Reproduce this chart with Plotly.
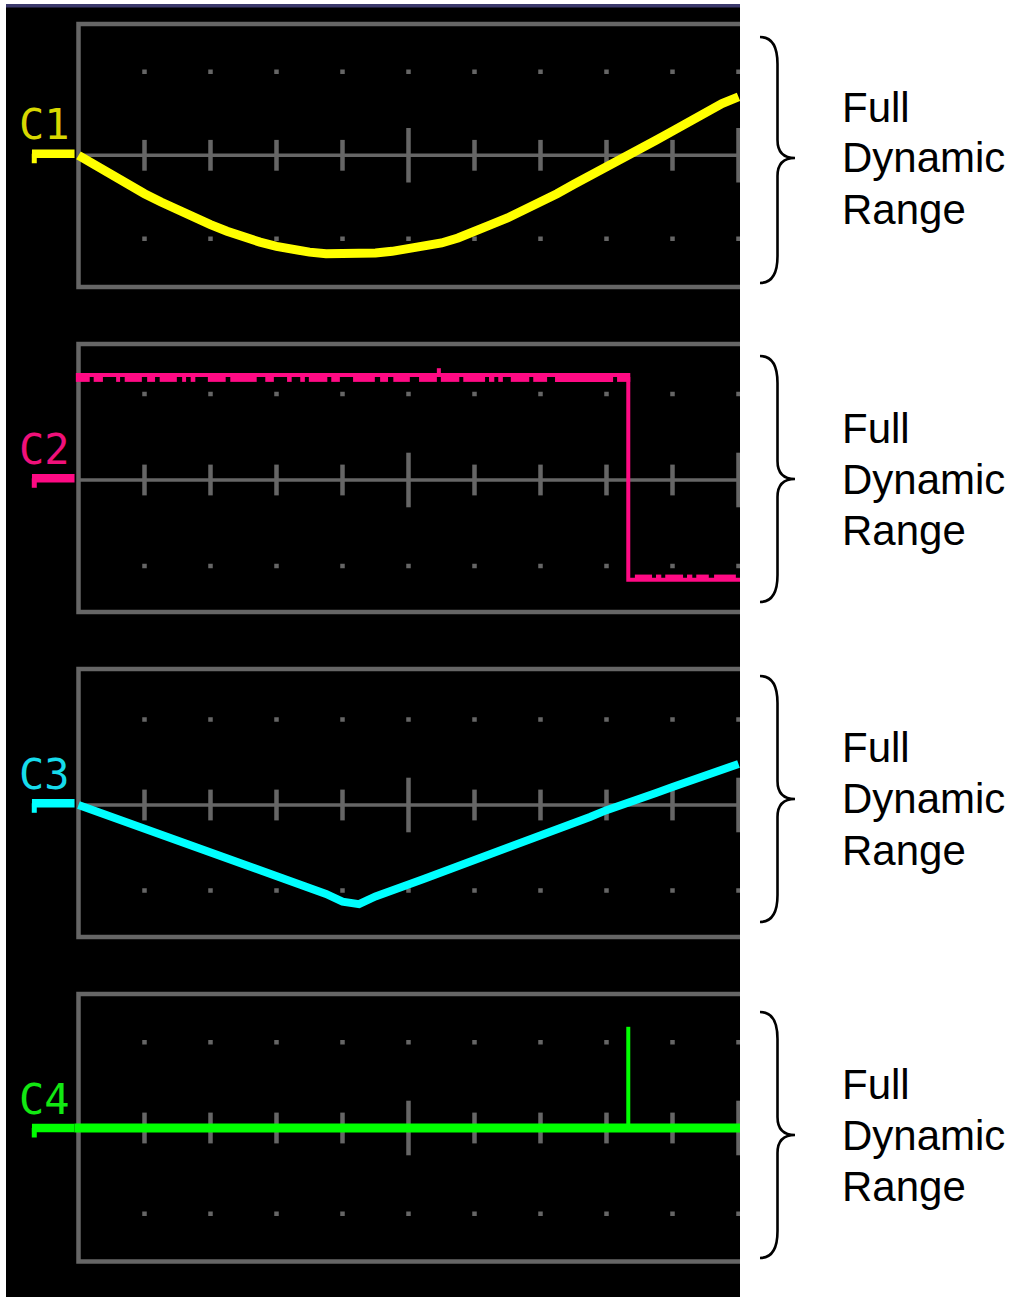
import plotly.graph_objects as go

# ---------------- data (oscilloscope divisions) ----------------
# horizontal sample positions (divisions from left graticule edge)
x_grid = [0.0, 0.25, 0.5, 0.75, 1.0, 1.25, 1.5, 1.75, 2.0, 2.25,
          2.5, 2.75, 3.0, 3.25, 3.5, 3.75, 4.0, 4.25, 4.5, 4.75,
          5.0, 5.25, 5.5, 5.75, 6.0, 6.25, 6.5, 6.75, 7.0, 7.25,
          7.5, 7.75, 8.0, 8.25, 8.5, 8.75, 9.0, 9.25, 9.5, 9.75, 10.0]

# C1: sine wave (yellow)
c1_y = [0.00, -0.12, -0.25, -0.36, -0.46, -0.56, -0.66, -0.75, -0.83, -0.91,
        -0.98, -1.04, -1.09, -1.13, -1.16, -1.18, -1.18, -1.18, -1.17, -1.15,
        -1.12, -1.09, -1.05, -0.99, -0.92, -0.83, -0.75, -0.66, -0.57, -0.46,
        -0.35, -0.25, -0.14, -0.03, 0.07, 0.18, 0.29, 0.41, 0.52, 0.62, 0.70]

# C2: square wave (magenta)
c2_x = [-0.04, 8.33, 8.33, 10.1]
c2_y = [1.22, 1.22, -1.16, -1.16]
c2_hi_start = [-0.04, 0.23, 0.57, 0.70, 1.04, 1.23, 1.57, 1.70, 1.96, 2.30, 2.83, 3.16, 3.36, 3.49,
               3.83, 4.16, 4.57, 4.77, 5.16, 5.49, 5.83, 6.22, 6.36, 6.55, 6.89, 7.22, 8.16]
c2_hi_end = [0.17, 0.37, 0.63, 0.96, 1.16, 1.49, 1.63, 1.77, 2.23, 2.70, 2.96, 3.23, 3.43, 3.77,
             3.96, 4.49, 4.69, 5.02, 5.43, 5.77, 6.16, 6.30, 6.43, 6.83, 7.10, 8.10, 8.36]
c2_hi_level = 1.17
c2_lo_start = [8.43, 8.75, 8.89, 9.22, 9.36, 9.63]
c2_lo_end = [8.69, 8.83, 9.16, 9.30, 9.55, 9.96]
c2_lo_level = -1.12
c2_glitch_x = [5.46, 5.46]
c2_glitch_y = [1.20, 1.30]

# C3: triangle wave (cyan)
c3_y = [0.00, -0.07, -0.13, -0.20, -0.27, -0.33, -0.40, -0.47, -0.54, -0.61,
        -0.69, -0.75, -0.82, -0.89, -0.96, -1.04, -1.13, -1.16, -1.07, -1.01,
        -0.93, -0.86, -0.79, -0.72, -0.65, -0.57, -0.50, -0.43, -0.36, -0.28,
        -0.21, -0.14, -0.06, 0.00, 0.07, 0.14, 0.21, 0.28, 0.35, 0.42, 0.48]

# C4: flat line with a single spike (green)
c4_x = [-0.06, 10.1]
c4_y = [0.0, 0.0]
c4_spike_x = [8.33, 8.33]
c4_spike_y = [0.0, 1.18]

# channel offset markers
channel_names = ["C1", "C2", "C3", "C4"]
marker_level = [0.02, 0.02, 0.02, 0.0]
marker_x = [-0.705, -0.06]

# graticule
tick_x = [1, 2, 3, 4, 5, 6, 7, 8, 9, 10]
major_tick_x = [5, 10]
dot_rows = [1, -1]

side_text = ["Full", "Dynamic", "Range"]

# ---------------- layout geometry (pixels) ----------------
W, H = 1011, 1297
X0_PX, DIV_PX = 78.5, 66.0
XL_PX, XR_PX = 6, 740
HALF = 150
centers = [155.3, 480.0, 805.0, 1128.0]
ppd = [83.5, 86.0, 85.5, 85.75]
border_top_px = [24, 344, 669, 994]
border_bot_px = [287, 612, 937, 1261.5]
brace_top = [37, 356, 676, 1012]
brace_tip = [158, 479, 799, 1135]
brace_bot = [283, 602, 922, 1258]

colors = ["#ffff00", "#ff0a84", "#00ffff", "#00ff00"]
label_colors = ["#d8d800", "#f0107a", "#16dcec", "#12e812"]
GRID = "#666666"

x_range = [(XL_PX - X0_PX) / DIV_PX, (XR_PX - X0_PX) / DIV_PX]

fig = go.Figure()

for i in range(4):
    n = "" if i == 0 else str(i + 1)
    c, p = centers[i], ppd[i]
    fig.layout["xaxis" + n] = dict(domain=[XL_PX / W, XR_PX / W], range=x_range, visible=False,
                                   anchor="y" + n, fixedrange=True)
    fig.layout["yaxis" + n] = dict(domain=[1 - (c + HALF) / H, 1 - (c - HALF) / H],
                                   range=[-HALF / p, HALF / p], visible=False,
                                   anchor="x" + n, fixedrange=True)
    xa, ya = "x" + n, "y" + n
    top = (c - border_top_px[i]) / p
    bot = (c - border_bot_px[i]) / p

    # border
    fig.add_trace(go.Scatter(x=[10.3, 0, 0, 10.3], y=[top, top, bot, bot], mode="lines",
                             line=dict(color=GRID, width=4.5), xaxis=xa, yaxis=ya, hoverinfo="skip"))
    # centre line
    fig.add_trace(go.Scatter(x=[0, 10.3], y=[0, 0], mode="lines",
                             line=dict(color=GRID, width=3.5), xaxis=xa, yaxis=ya, hoverinfo="skip"))
    # ticks
    minor = [t for t in tick_x if t not in major_tick_x]
    fig.add_trace(go.Scatter(x=minor, y=[0] * len(minor), mode="markers",
                             marker=dict(symbol="line-ns", size=22, line=dict(color=GRID, width=4.5)),
                             xaxis=xa, yaxis=ya, hoverinfo="skip", cliponaxis=False))
    fig.add_trace(go.Scatter(x=major_tick_x, y=[0] * len(major_tick_x), mode="markers",
                             marker=dict(symbol="line-ns", size=39, line=dict(color=GRID, width=4.5)),
                             xaxis=xa, yaxis=ya, hoverinfo="skip", cliponaxis=True))
    # dots
    dx, dy = [], []
    for r in dot_rows:
        dx += tick_x
        dy += [r] * len(tick_x)
    fig.add_trace(go.Scatter(x=dx, y=dy, mode="markers",
                             marker=dict(symbol="square", size=4.5, color=GRID, line=dict(width=0)),
                             xaxis=xa, yaxis=ya, hoverinfo="skip"))

    col = colors[i]
    lvl = marker_level[i]
    # offset marker
    fig.add_trace(go.Scatter(x=marker_x, y=[lvl, lvl], mode="lines",
                             line=dict(color=col, width=8.5), xaxis=xa, yaxis=ya, hoverinfo="skip"))
    fig.add_trace(go.Scatter(x=[marker_x[0] + 0.035, marker_x[0] + 0.035], y=[lvl, lvl - 9.5 / p],
                             mode="lines", line=dict(color=col, width=5), xaxis=xa, yaxis=ya,
                             hoverinfo="skip"))

    # waveforms
    if i == 0:
        fig.add_trace(go.Scatter(x=x_grid, y=c1_y, mode="lines", line=dict(color=col, width=9),
                                 xaxis=xa, yaxis=ya, hoverinfo="skip"))
    elif i == 1:
        fig.add_trace(go.Scatter(x=c2_x, y=c2_y, mode="lines", line=dict(color=col, width=4),
                                 xaxis=xa, yaxis=ya, hoverinfo="skip"))
        hx, hy = [], []
        for s, e in zip(c2_hi_start, c2_hi_end):
            hx += [s, e, None]
            hy += [c2_hi_level, c2_hi_level, None]
        fig.add_trace(go.Scatter(x=hx, y=hy, mode="lines", line=dict(color=col, width=5),
                                 xaxis=xa, yaxis=ya, hoverinfo="skip"))
        lx, ly = [], []
        for s, e in zip(c2_lo_start, c2_lo_end):
            lx += [s, e, None]
            ly += [c2_lo_level, c2_lo_level, None]
        fig.add_trace(go.Scatter(x=lx, y=ly, mode="lines", line=dict(color=col, width=3.5),
                                 xaxis=xa, yaxis=ya, hoverinfo="skip"))
        fig.add_trace(go.Scatter(x=c2_glitch_x, y=c2_glitch_y, mode="lines",
                                 line=dict(color=col, width=4), xaxis=xa, yaxis=ya, hoverinfo="skip"))
    elif i == 2:
        fig.add_trace(go.Scatter(x=x_grid, y=c3_y, mode="lines", line=dict(color=col, width=8),
                                 xaxis=xa, yaxis=ya, hoverinfo="skip"))
    else:
        fig.add_trace(go.Scatter(x=c4_spike_x, y=c4_spike_y, mode="lines",
                                 line=dict(color=col, width=4), xaxis=xa, yaxis=ya, hoverinfo="skip"))
        fig.add_trace(go.Scatter(x=c4_x, y=c4_y, mode="lines", line=dict(color=col, width=9),
                                 xaxis=xa, yaxis=ya, hoverinfo="skip"))

    # channel label
    fig.add_annotation(x=-0.52, y=lvl + 29 / p, xref=xa, yref=ya, text=channel_names[i],
                       showarrow=False, xanchor="center", yanchor="middle",
                       font=dict(family="DejaVu Sans Mono", size=42, color=label_colors[i]))


def px(xp, yp):
    return f"{xp / W:.5f},{1 - yp / H:.5f}"


shapes = [
    dict(type="rect", xref="paper", yref="paper", x0=XL_PX / W, x1=XR_PX / W, y0=0, y1=1 - 7 / H,
         fillcolor="#000000", line=dict(width=0), layer="below"),
    dict(type="rect", xref="paper", yref="paper", x0=XL_PX / W, x1=XR_PX / W, y0=1 - 7.5 / H,
         y1=1 - 4 / H, fillcolor="#3b396c", line=dict(width=0), layer="below"),
]

XE, XS, XT = 760.0, 777.5, 795.0
for i in range(4):
    T, M, B = brace_top[i], brace_tip[i], brace_bot[i]
    path = (f"M {px(XE, T)} C {px(XE + 12, T)} {px(XS, T + 9)} {px(XS, T + 27)} "
            f"L {px(XS, M - 18)} C {px(XS, M - 5)} {px(XS + 7, M)} {px(XT, M)} "
            f"C {px(XS + 7, M)} {px(XS, M + 5)} {px(XS, M + 18)} "
            f"L {px(XS, B - 27)} C {px(XS, B - 9)} {px(XE + 12, B)} {px(XE, B)}")
    shapes.append(dict(type="path", xref="paper", yref="paper", path=path,
                       line=dict(color="#000000", width=2.6)))
    for k, t in enumerate(side_text):
        fig.add_annotation(x=840 / W, y=1 - (M + (k - 1) * 51) / H, xref="paper", yref="paper",
                           text=t, showarrow=False, xanchor="left", yanchor="middle",
                           font=dict(family="Liberation Sans, Arial", size=42, color="#000000"))

fig.update_layout(
    width=W, height=H, margin=dict(l=0, r=0, t=0, b=0, pad=0),
    paper_bgcolor="#ffffff", plot_bgcolor="rgba(0,0,0,0)",
    showlegend=False, shapes=shapes,
)

fig.write_html("out.html", config={"displayModeBar": False, "staticPlot": True},
               post_script="document.body.style.margin='0';")
